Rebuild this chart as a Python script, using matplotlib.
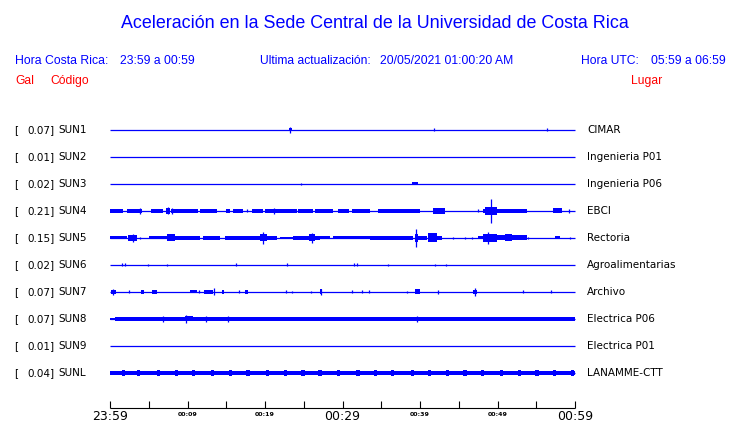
import matplotlib
matplotlib.use("Agg")
import matplotlib.pyplot as plt

# station info
codes = ['SUN1', 'SUN2', 'SUN3', 'SUN4', 'SUN5', 'SUN6', 'SUN7', 'SUN8', 'SUN9', 'SUNL']
places = ['CIMAR', 'Ingenieria P01', 'Ingenieria P06', 'EBCI', 'Rectoria',
          'Agroalimentarias', 'Archivo', 'Electrica P06', 'Electrica P01', 'LANAMME-CTT']
peaks = [0.07, 0.01, 0.02, 0.21, 0.15, 0.02, 0.07, 0.07, 0.01, 0.04]

# bursts: (start minute, end minute, half height in px); start == end -> single spike
sun1 = [(23.1, 23.5, 1.5), (23.2, 23.2, 3.0), (41.8, 41.8, 1.5), (56.4, 56.4, 1.5)]
sun2 = []
sun3 = [(24.6, 24.6, 1.0), (39.0, 39.7, 1.5)]
sun4 = [(0.0, 1.7, 2.0), (2.2, 4.1, 2.0), (3.9, 3.9, 3.0), (5.3, 6.8, 2.0), (7.2, 7.7, 3.0),
        (7.5, 7.5, 3.5), (7.9, 11.4, 2.0), (8.0, 8.0, 3.0), (11.6, 13.8, 2.0), (15.0, 15.5, 2.0),
        (15.9, 17.2, 2.0), (17.7, 17.7, 1.5), (18.3, 19.7, 2.0), (20.0, 24.1, 2.0), (21.2, 21.2, 3.0),
        (24.3, 26.2, 2.0), (26.4, 28.8, 2.0), (29.4, 30.9, 2.0), (31.2, 33.5, 2.0), (34.6, 40.0, 2.0),
        (41.7, 43.2, 3.0), (47.5, 47.5, 1.5), (48.1, 53.8, 2.0), (48.4, 49.9, 4.0), (49.2, 49.2, 12.0),
        (57.2, 58.3, 2.5), (59.2, 59.2, 2.0)]
sun5 = [(0.0, 2.2, 1.5), (2.3, 3.5, 3.0), (3.0, 3.0, 4.0), (3.9, 3.9, 1.0), (5.0, 7.3, 1.5),
        (7.4, 8.4, 3.5), (8.4, 11.6, 2.0), (12.0, 14.2, 2.0), (14.8, 19.4, 2.0), (19.4, 20.3, 3.5),
        (19.8, 19.8, 6.0), (20.3, 21.5, 2.0), (21.9, 23.6, 1.0), (23.6, 27.1, 2.0), (25.7, 26.4, 3.5),
        (26.0, 26.0, 5.0), (27.1, 28.4, 1.5), (28.8, 33.5, 1.5), (33.5, 39.1, 2.0), (39.5, 39.5, 9.0),
        (39.3, 39.8, 4.0), (39.6, 40.9, 2.0), (41.0, 42.2, 4.5), (42.2, 42.8, 2.0), (44.3, 44.3, 1.0),
        (45.8, 45.8, 1.0), (46.7, 46.7, 1.0), (47.5, 48.1, 1.5), (48.1, 49.9, 4.0), (48.8, 48.8, 6.0),
        (49.9, 53.8, 2.5), (51.0, 51.9, 3.5), (53.9, 53.9, 1.0), (57.4, 58.1, 1.5), (59.4, 59.4, 1.0)]
sun6 = [(1.5, 1.5, 1.5), (1.9, 1.9, 1.5), (4.9, 4.9, 1.0), (7.4, 7.4, 1.0), (16.3, 16.3, 1.5),
        (22.8, 22.8, 1.5), (31.5, 31.5, 1.5), (31.9, 31.9, 1.5), (35.9, 35.9, 1.0), (41.9, 41.9, 1.0),
        (43.4, 43.4, 1.0)]
sun7 = [(0.1, 0.8, 2.0), (0.4, 0.4, 3.0), (2.5, 2.5, 1.5), (4.0, 4.4, 2.0), (5.4, 6.1, 2.0),
        (10.3, 11.2, 1.5), (11.5, 11.5, 1.5), (12.1, 13.3, 2.0), (13.4, 13.4, 3.5), (14.5, 14.7, 2.0),
        (16.6, 16.6, 1.5), (17.4, 17.8, 2.0), (22.7, 22.7, 1.5), (23.5, 23.5, 1.0), (25.9, 25.9, 1.0),
        (27.1, 27.4, 2.5), (27.2, 27.2, 3.0), (31.2, 31.2, 1.5), (32.5, 32.5, 1.5), (33.4, 33.4, 1.5),
        (38.3, 38.3, 1.0), (39.4, 40.0, 2.5), (42.3, 42.3, 2.0), (46.8, 47.4, 2.0), (47.1, 47.1, 4.0),
        (53.3, 53.3, 1.5), (56.9, 56.9, 1.5)]
sun8 = [(0.0, 0.6, 1.2), (0.6, 60.0, 1.8), (6.8, 6.8, 3.0), (9.7, 10.7, 2.5), (9.8, 9.8, 4.0),
        (12.4, 12.4, 3.0), (15.2, 15.2, 3.0), (39.6, 39.6, 3.0)]
sun9 = []
sunl = [(0.0, 60.0, 1.7)] + [(m - 0.2, m + 0.2, 3.0) for m in
        [1.7, 3.7, 6.2, 8.6, 10.8, 13.2, 15.5, 17.8, 20.3, 22.6, 24.9, 27.1, 29.5, 32.0, 34.2,
         36.5, 39.0, 41.2, 43.5, 45.8, 48.1, 50.5, 52.8, 55.1, 57.4, 59.7]]
traces = [sun1, sun2, sun3, sun4, sun5, sun6, sun7, sun8, sun9, sunl]

major_ticks = ['23:59', '00:09', '00:19', '00:29', '00:39', '00:49', '00:59']

blue = '#0000ff'
W, H = 740, 423
fig = plt.figure(figsize=(7.4, 4.23), dpi=100)
ax = fig.add_axes([0, 0, 1, 1])
ppm = 7.75  # pixels per minute
ax.set_xlim(-110 / ppm, (W - 110) / ppm)
ax.set_ylim(H, 0)
ax.axis('off')


def ftxt(x, y, s, **kw):
    fig.text(x / W, 1 - y / H, s, va='center', **kw)


hfont = 'Liberation Sans'
ftxt(375, 23, 'Aceleración en la Sede Central de la Universidad de Costa Rica',
     ha='center', color=blue, fontsize=12.9, family=hfont)
ftxt(15, 61, 'Hora Costa Rica:', color=blue, fontsize=8.8, family=hfont)
ftxt(120, 61, '23:59 a 00:59', color=blue, fontsize=8.7, family=hfont)
ftxt(260, 61, 'Ultima actualización:', color=blue, fontsize=8.7, family=hfont)
ftxt(380, 61, '20/05/2021 01:00:20 AM', color=blue, fontsize=8.7, family=hfont)
ftxt(581, 61, 'Hora UTC:', color=blue, fontsize=8.7, family=hfont)
ftxt(651, 61, '05:59 a 06:59', color=blue, fontsize=8.7, family=hfont)
ftxt(15, 81, 'Gal', color='red', fontsize=8.7, family=hfont)
ftxt(50, 81, 'Código', color='red', fontsize=8.7, family=hfont)
ftxt(631, 81, 'Lugar', color='red', fontsize=8.7, family=hfont)

for i in range(len(codes)):
    y = 130 + 27 * i
    ax.hlines(y, 0, 60, color=blue, lw=0.9)
    for s, e, a in traces[i]:
        if e > s:
            ax.fill_between([s, e], y - a, y + a, color=blue, lw=0)
        else:
            ax.vlines(s, y - a, y + a, color=blue, lw=0.9)
    ftxt(14, y, '[', fontsize=7.5, family='DejaVu Sans')
    ftxt(55, y, '%.2f]' % peaks[i], ha='right', fontsize=7.5, family='DejaVu Sans')
    ftxt(58, y, codes[i], fontsize=7.5, family='DejaVu Sans')
    ftxt(587, y, places[i], fontsize=7.5, family='DejaVu Sans')

# time axis
ax.hlines(408, 0, 60, color='black', lw=0.8)
ax.vlines(range(0, 61, 5), 401, 408, color='black', lw=0.8)
for k, lab in enumerate(major_ticks):
    big = k in (0, 3, 6)
    ax.text(k * 10, 416 if big else 414, lab, ha='center', va='center',
            fontsize=9 if big else 4.5, fontweight='normal' if big else 'bold',
            family='DejaVu Sans')

fig.savefig('out.png', dpi=100)
